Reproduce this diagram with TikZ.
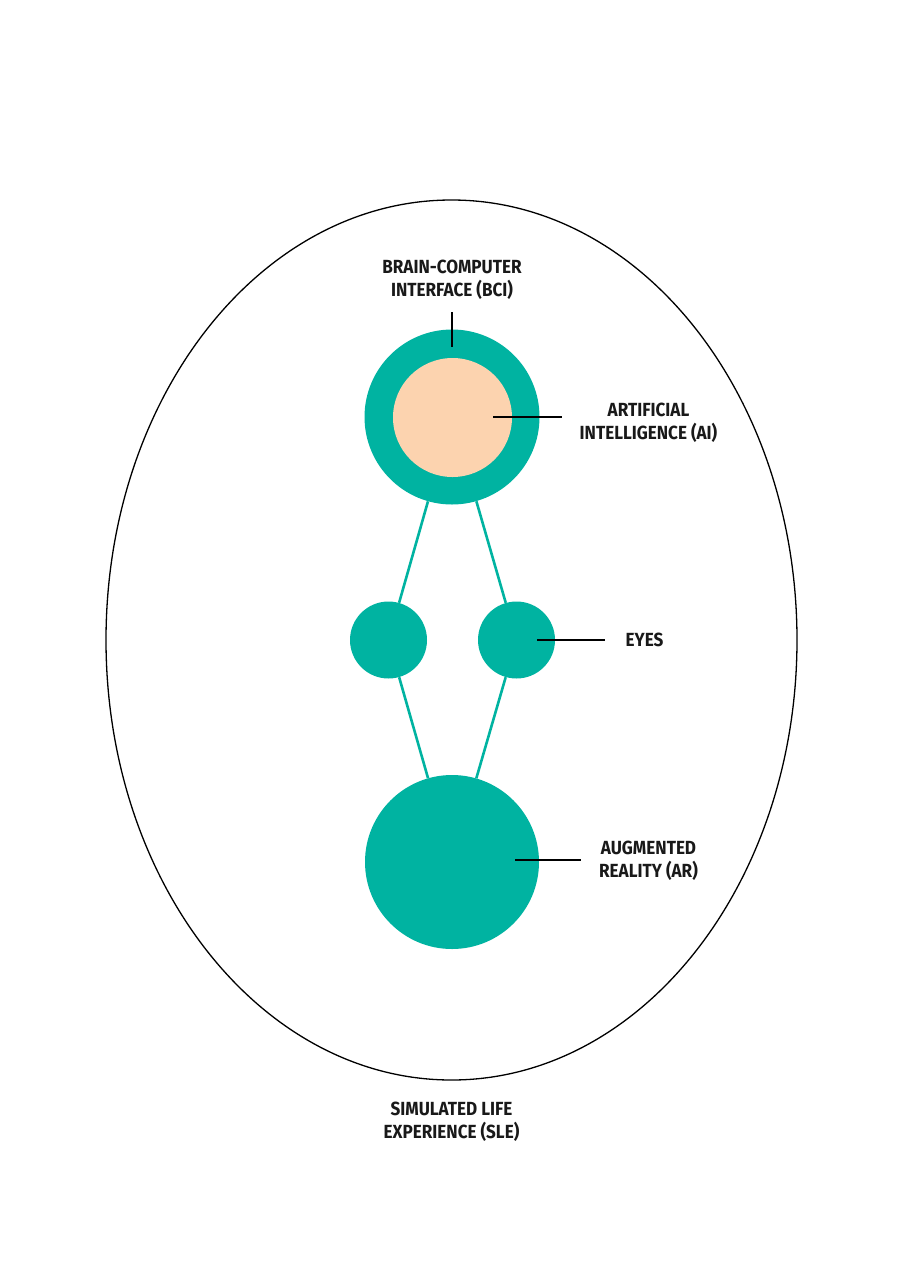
\documentclass[tikz,border=0pt]{standalone}
\usepackage{fontspec}
\setmainfont{Fira Sans}[FakeStretch=0.9]
\definecolor{teal1}{HTML}{00B3A1}
\definecolor{peach}{HTML}{FCD3AF}
\begin{document}
\begin{tikzpicture}[x=1pt,y=-1pt,
  disc/.style={circle,fill=teal1,draw=none,inner sep=0pt,minimum size=#1},
  link/.style={draw=teal1,line width=2.6pt},
  pointer/.style={draw=black,line width=1.2pt},
  lbl/.style={font=\bfseries\fontsize{19}{23.5}\selectfont,align=center,text=black!90,inner sep=0pt}]
\useasboundingbox[fill=white] (0,0) rectangle (905,1280);
% outer ellipse
\draw[line width=1.3pt] (451.5,640) ellipse [x radius=345.5, y radius=440];
% circles
\node[disc=175pt] (bci) at (452,417) {};
\node[circle,fill=peach,inner sep=0pt,minimum size=119pt] (ai) at (452.5,417.5) {};
\node[disc=77pt] (eyeL) at (388.5,640) {};
\node[disc=77pt] (eyeR) at (516.5,640) {};
\node[disc=174pt] (ar) at (452,862) {};
% links
\draw[link] (bci) -- (eyeL);
\draw[link] (bci) -- (eyeR);
\draw[link] (eyeL) -- (ar);
\draw[link] (eyeR) -- (ar);
% labels
\node[lbl] (tbci) at (452,280) {BRAIN-COMPUTER\\INTERFACE (BCI)};
\node[lbl] (tai) at (648.5,423) {ARTIFICIAL\\INTELLIGENCE (AI)};
\node[lbl] (teyes) at (644.5,640) {EYES};
\node[lbl] (tar) at (648.5,861) {AUGMENTED\\REALITY (AR)};
\node[lbl] (tsle) at (451.5,1122) {SIMULATED LIFE\\EXPERIENCE (SLE)};
% pointers
\coordinate (pb1) at (452,312); \coordinate (pb2) at (452,347);
\coordinate (pa1) at (493,417); \coordinate (pa2) at (562,417);
\coordinate (pe1) at (537,640); \coordinate (pe2) at (605,640);
\coordinate (pr1) at (515,860); \coordinate (pr2) at (581,860);
\draw[pointer] (pb1) -- (pb2);
\draw[pointer] (pa1) -- (pa2);
\draw[pointer] (pe1) -- (pe2);
\draw[pointer] (pr1) -- (pr2);
\end{tikzpicture}
\end{document}
